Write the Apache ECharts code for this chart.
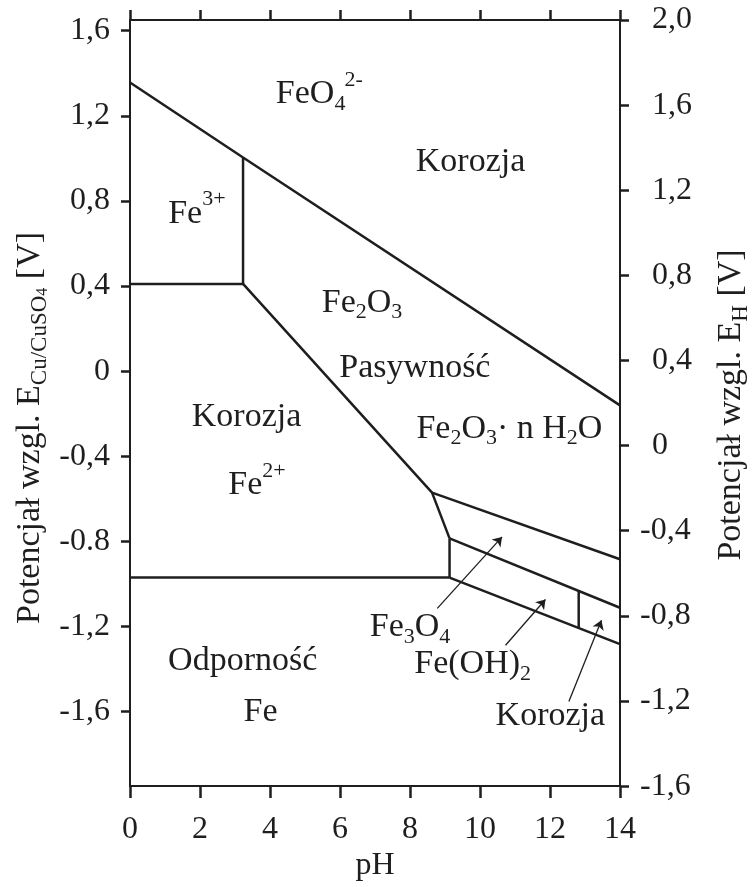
<!DOCTYPE html>
<html><head><meta charset="utf-8">
<script src="https://cdn.jsdelivr.net/npm/echarts@6/dist/echarts.min.js"></script>
<style>html,body{margin:0;padding:0;background:#fff}#c{width:752px;height:887px}</style>
</head><body><div id="c"></div>
<script>
// ---- axes ----
const pHRange = [0, 14];
const leftRange = [-1.95, 1.65];     // E vs Cu/CuSO4
const rightRange = [-1.6, 2.0];      // E vs SHE
const leftTicks = [-1.6, -1.2, -0.8, -0.4, 0, 0.4, 0.8, 1.2, 1.6];
const leftTickLabels = ['-1,6', '-1,2', '-0.8', '-0,4', '0', '0,4', '0,8', '1,2', '1,6'];
const rightTickLabels = ['-1,6', '-1,2', '-0,8', '-0,4', '0', '0,4', '0,8', '1,2', '1,6', '2,0'];

// ---- boundary lines [pH, E(Cu/CuSO4) V] ----
const lineFeO4 = [[0, 1.356], [3.23, 1.004], [14, -0.161]];
const lineFe3Vertical = [[3.23, 1.004], [3.23, 0.41]];
const lineFe3Fe2 = [[0, 0.41], [3.23, 0.41]];
const lineFe2Fe2O3 = [[3.23, 0.41], [8.63, -0.571], [9.13, -0.786]];
const lineFe2O3Fe3O4 = [[8.63, -0.571], [14, -0.884]];
const lineFe3O4Vertical = [[9.13, -0.786], [9.13, -0.97]];
const lineFe3O4FeOH2 = [[9.13, -0.786], [14, -1.112]];
const lineFeImmunity = [[0, -0.97], [9.13, -0.97]];
const lineFeOH2Fe = [[9.13, -0.97], [14, -1.283]];
const lineFeOH2Vertical = [[12.82, -1.033], [12.82, -1.207]];

// ---- pointer arrows [from, to] ----
const arrowFe3O4 = [[8.78, -1.115], [10.63, -0.779]];
const arrowFeOH2 = [[10.73, -1.288], [11.87, -1.073]];
const arrowKorozja = [[12.54, -1.553], [13.47, -1.171]];

// ---- region labels ----
const regionTexts = ['FeO{sub|4}', '2-', 'Korozja', 'Fe{sup|3+}', 'Fe{sub|2}O{sub|3}', 'Pasywność',
  'Fe{sub|2}O{sub|3}· n H{sub|2}O', 'Korozja', 'Fe{sup|2+}', 'Fe{sub|3}O{sub|4}', 'Fe(OH){sub|2}',
  'Korozja', 'Odporność', 'Fe'];
const regionPH = [5.16, 6.39, 9.73, 1.91, 6.63, 8.14, 10.84, 3.33, 3.63, 8.0, 9.79, 12.01, 3.22, 3.73];
const regionE = [1.303, 1.369, 0.981, 0.74, 0.322, 0.015, -0.27, -0.216, -0.536, -1.203, -1.376, -1.62, -1.363, -1.60];

const FONT = 'Liberation Serif';
const INK = '#1e1e1e';
const TXT = '#1e1e1e';
const FS = 34;      // region labels
const TFS = 32;     // tick labels

const rich = {
  sub: {fontSize: 22, lineHeight: 22, fontFamily: FONT, color: TXT, verticalAlign: 'bottom', textBorderWidth: 0},
  sup: {fontSize: 22, lineHeight: 22, fontFamily: FONT, color: TXT, verticalAlign: 'top', textBorderWidth: 0}
};

const boundaries = [lineFeO4, lineFe3Vertical, lineFe3Fe2, lineFe2Fe2O3, lineFe2O3Fe3O4,
  lineFe3O4Vertical, lineFe3O4FeOH2, lineFeImmunity, lineFeOH2Fe, lineFeOH2Vertical];
const arrows = [arrowFe3O4, arrowFeOH2, arrowKorozja];

const series = boundaries.map(d => ({
  type: 'line', data: d, symbol: 'none', silent: true, animation: false,
  xAxisIndex: 0, yAxisIndex: 0,
  lineStyle: {color: INK, width: 2.5}
}));

series.push({
  type: 'line', data: [], xAxisIndex: 0, yAxisIndex: 0, animation: false,
  markLine: {
    silent: true, animation: false, symbol: ['none', 'arrow'], symbolSize: 9,
    lineStyle: {color: INK, width: 1.3, type: 'solid'},
    itemStyle: {color: INK},
    label: {show: false},
    data: arrows.map(a => [{coord: a[0]}, {coord: a[1]}])
  }
});

series.push({
  type: 'scatter', xAxisIndex: 0, yAxisIndex: 0, symbolSize: 0, silent: true, animation: false,
  itemStyle: {opacity: 1, color: INK},
  data: regionTexts.map((t, i) => {
    const hasSup = t.indexOf('{sup|') >= 0;
    const small = t === '2-';
    return {
      value: [regionPH[i], regionE[i]],
      label: {
        show: true, position: 'inside', formatter: t, opacity: 1,
        fontFamily: FONT, fontSize: small ? 22 : FS, color: TXT,
        textBorderWidth: 0, textBorderColor: 'transparent',
        lineHeight: hasSup ? 50 : 42, rich: rich
      }
    };
  })
});

const tickStyle = {color: INK, width: 2.5};
const labelBase = {fontFamily: FONT, fontSize: TFS, color: TXT};

const option = {
  animation: false,
  backgroundColor: '#fff',
  grid: {left: 130, right: 132, top: 20, bottom: 100.5, containLabel: false},
  xAxis: [
    {type: 'value', min: pHRange[0], max: pHRange[1], interval: 2, position: 'bottom',
      axisLine: {onZero: false, lineStyle: {color: INK, width: 2}},
      axisTick: {inside: false, length: 12, lineStyle: tickStyle},
      axisLabel: Object.assign({margin: 27}, labelBase),
      splitLine: {show: false},
      name: 'pH', nameLocation: 'middle', nameGap: 62,
      nameTextStyle: {fontFamily: FONT, fontSize: TFS, color: TXT}},
    {type: 'value', min: pHRange[0], max: pHRange[1], interval: 2, position: 'top',
      axisLine: {onZero: false, lineStyle: {color: INK, width: 2}},
      axisTick: {inside: false, length: 10, lineStyle: tickStyle},
      axisLabel: {show: false}, splitLine: {show: false}}
  ],
  yAxis: [
    {type: 'value', min: leftRange[0], max: leftRange[1], position: 'left',
      axisLine: {show: true, onZero: false, lineStyle: {color: INK, width: 2}},
      axisTick: {show: true, inside: false, length: 9, lineStyle: tickStyle, customValues: leftTicks},
      axisLabel: Object.assign({margin: 20, customValues: leftTicks,
        formatter: v => { const i = leftTicks.findIndex(t => Math.abs(t - v) < 1e-6); return i >= 0 ? leftTickLabels[i] : ''; }}, labelBase),
      splitLine: {show: false}},
    {type: 'value', min: rightRange[0], max: rightRange[1], interval: 0.4, position: 'right',
      axisLine: {show: true, onZero: false, lineStyle: {color: INK, width: 2}},
      axisTick: {show: true, inside: false, length: 9, lineStyle: tickStyle},
      axisLabel: Object.assign({margin: 20,
        formatter: v => { const i = Math.round((v - rightRange[0]) / 0.4); const s = rightTickLabels[i] || ''; return v < -1e-6 ? s : '{p|' + s + '}'; },
        rich: {p: {padding: [0, 0, 0, 12], fontFamily: FONT, fontSize: TFS, color: TXT}}}, labelBase),
      splitLine: {show: false}}
  ],
  graphic: [
    {type: 'text', x: 30, y: 428, rotation: Math.PI / 2, silent: true,
      style: {text: 'Potencjał wzgl. E{s|Cu/CuSO}{ss|4} [V]', fontFamily: FONT, fontSize: 34, fill: TXT,
        align: 'center', verticalAlign: 'middle', lineHeight: 42,
        rich: {s: {fontFamily: FONT, fontSize: 23, lineHeight: 24, fill: TXT, verticalAlign: 'bottom'},
               ss: {fontFamily: FONT, fontSize: 16, lineHeight: 15, fill: TXT, verticalAlign: 'bottom'}}}},
    {type: 'text', x: 731, y: 405, rotation: Math.PI / 2, silent: true,
      style: {text: 'Potencjał wzgl. E{s|H} [V]', fontFamily: FONT, fontSize: 34, fill: TXT,
        align: 'center', verticalAlign: 'middle', lineHeight: 42,
        rich: {s: {fontFamily: FONT, fontSize: 23, lineHeight: 24, fill: TXT, verticalAlign: 'bottom'}}}}
  ],
  series: series
};

const chart = echarts.init(document.getElementById('c'), null, {renderer: 'canvas'});
chart.setOption(option);
</script>
</body></html>
